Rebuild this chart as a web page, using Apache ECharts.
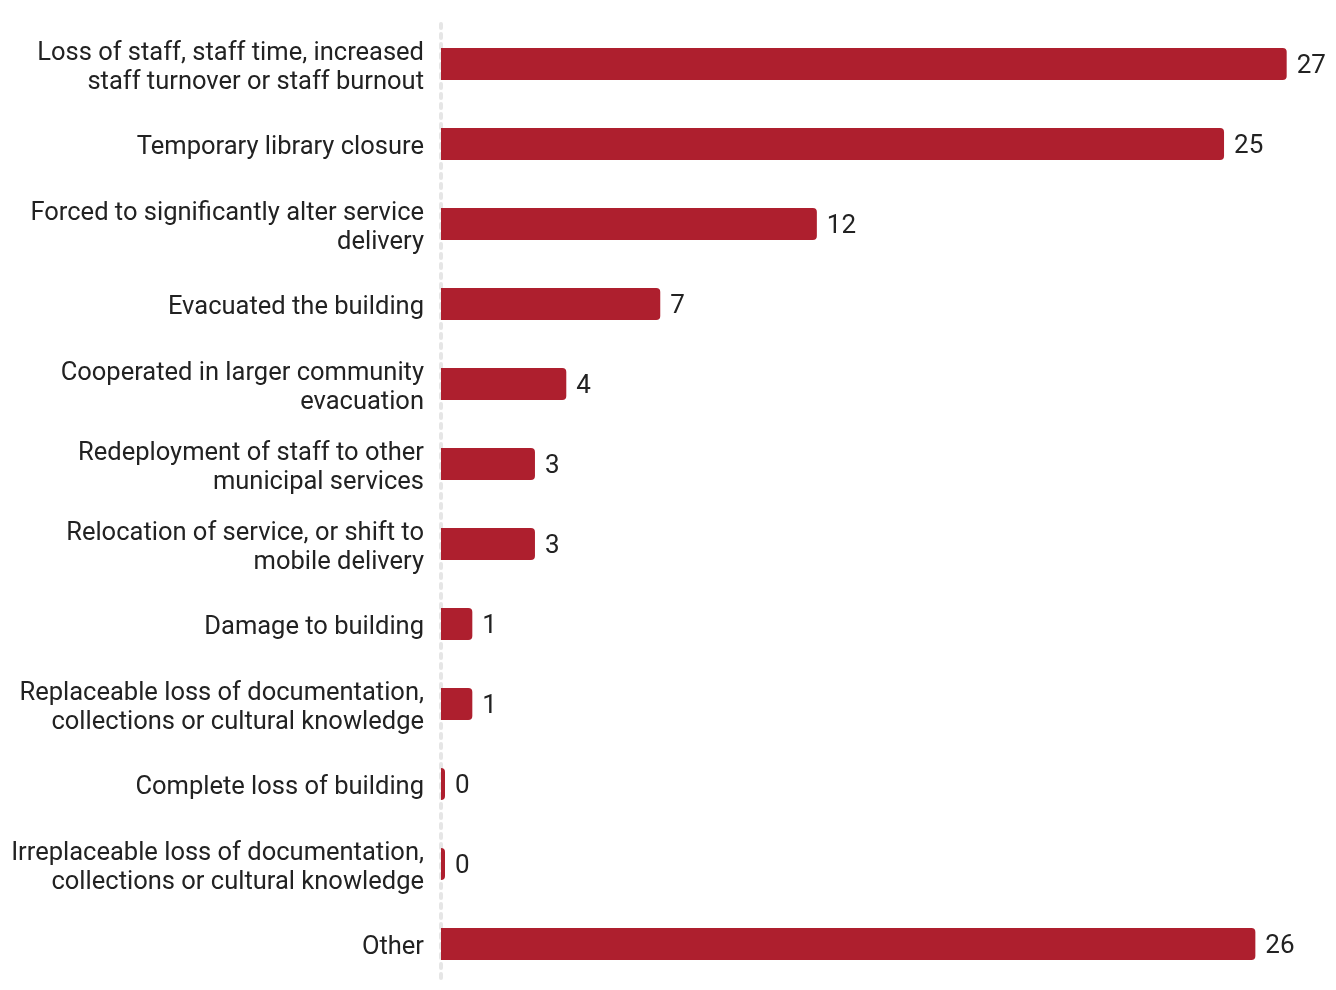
<!DOCTYPE html>
<html>
<head>
<meta charset="utf-8">
<script src="https://cdn.jsdelivr.net/npm/echarts@6/dist/echarts.min.js"></script>
<style>
  html, body { margin: 0; padding: 0; background: #fff; }
  #chart { width: 1336px; height: 990px; }
</style>
</head>
<body>
<div id="chart"></div>
<script>
// Impacts reported by libraries (count of responses)
const categories = [
  'Loss of staff, staff time, increased\nstaff turnover or staff burnout',
  'Temporary library closure',
  'Forced to significantly alter service\ndelivery',
  'Evacuated the building',
  'Cooperated in larger community\nevacuation',
  'Redeployment of staff to other\nmunicipal services',
  'Relocation of service, or shift to\nmobile delivery',
  'Damage to building',
  'Replaceable loss of documentation,\ncollections or cultural knowledge',
  'Complete loss of building',
  'Irreplaceable loss of documentation,\ncollections or cultural knowledge',
  'Other'
];
const counts = [27, 25, 12, 7, 4, 3, 3, 1, 1, 0, 0, 26];

const chart = echarts.init(document.getElementById('chart'));
chart.setOption({
  animation: false,
  textStyle: { fontFamily: 'Roboto, sans-serif' },
  grid: { left: 441, right: 18, top: 24, bottom: 6, containLabel: false },
  xAxis: {
    type: 'value',
    min: 0,
    max: 28,
    show: false
  },
  yAxis: {
    type: 'category',
    data: categories,
    inverse: true,
    axisTick: { show: false },
    axisLine: {
      show: true,
      lineStyle: { color: '#e6e6e6', width: 4, type: [4, 6] }
    },
    axisLabel: {
      margin: 17,
      color: '#222',
      align: 'right',
      formatter: function (v) { return '{t|' + v.split('\n').join('}\n{t|') + '}'; },
      rich: {
        t: {
          fontSize: 25.5,
          lineHeight: 29,
          color: '#222',
          padding: [8, 0, 0, 0],
          fontFamily: 'Roboto, sans-serif'
        }
      }
    }
  },
  series: [{
    type: 'bar',
    data: counts,
    barWidth: 32,
    barMinHeight: 4,
    itemStyle: { color: '#ae1f2e', borderRadius: [0, 4, 4, 0] },
    label: {
      show: true,
      position: 'right',
      distance: 10,
      offset: [0, 2],
      fontSize: 26,
      color: '#222',
      fontFamily: 'Roboto, sans-serif'
    }
  }]
});
</script>
</body>
</html>
